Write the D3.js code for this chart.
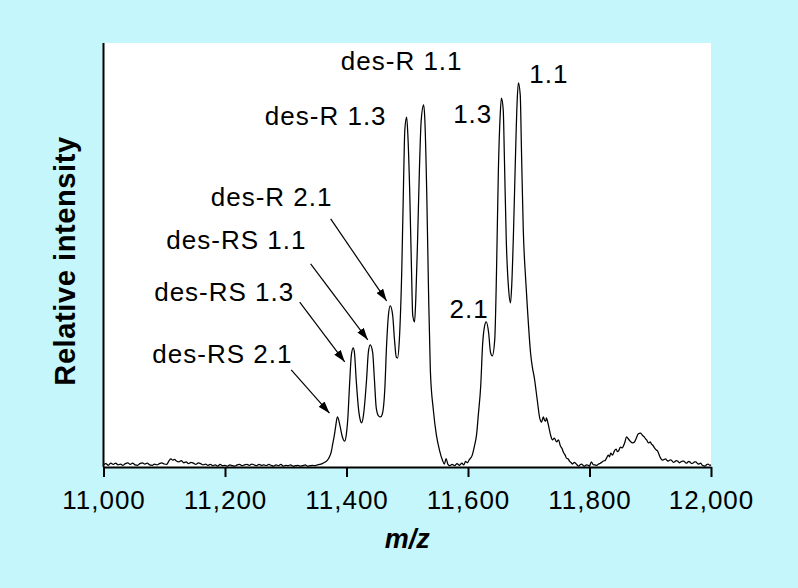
<!DOCTYPE html>
<html>
<head>
<meta charset="utf-8">
<script src="https://cdn.jsdelivr.net/npm/d3@7"></script>
<style>
  body { margin: 0; background: #c5f6fb; }
  svg { display: block; font-family: "Liberation Sans", Arial, Helvetica, sans-serif; }
</style>
</head>
<body>
<div id="chart"></div>
<script>
// m/z, relative intensity
const spectrum = [
  [11000,0.5],[11004,0.8],[11008,0.4],[11012,0.9],[11016,0.6],[11020,0.9],[11024,0.5],[11028,0.7],
  [11032,0.4],[11036,0.8],[11040,1.0],[11044,0.6],[11048,0.9],[11052,0.5],[11056,0.4],[11060,0.8],
  [11064,1.0],[11068,0.7],[11072,0.9],[11076,0.5],[11080,0.4],[11084,0.7],[11088,0.5],[11092,0.8],
  [11096,1.0],[11100,0.7],[11104,0.6],[11108,1.5],[11111,1.9],[11114,1.6],[11117,1.8],[11120,1.4],
  [11124,1.2],[11128,1.5],[11132,1.0],[11136,1.2],[11140,0.8],[11144,1.1],[11148,0.9],[11152,0.6],
  [11156,1.0],[11160,0.8],[11164,0.5],[11168,0.7],[11172,0.4],[11176,0.6],[11180,0.3],[11184,0.5],
  [11188,0.2],[11192,0.6],[11196,0.3],[11200,0.4],[11204,0.2],[11208,0.5],[11212,0.3],[11216,0.2],
  [11220,0.5],[11224,0.6],[11228,0.3],[11232,0.5],[11236,0.6],[11240,0.4],[11244,0.7],[11248,0.5],
  [11252,0.3],[11256,0.6],[11260,0.4],[11264,0.5],[11268,0.3],[11272,0.6],[11276,0.4],[11280,0.2],
  [11284,0.5],[11288,0.3],[11292,0.6],[11296,0.2],[11300,0.4],[11304,0.3],[11308,0.5],[11312,0.2],
  [11316,0.3],[11320,0.4],[11324,0.2],[11328,0.3],[11332,0.5],[11336,0.2],[11340,0.3],[11344,0.4],
  [11348,0.3],[11352,0.5],[11356,0.6],[11360,0.8],[11364,1.1],[11368,1.5],[11372,2.4],[11375,3.6],
  [11377,5.2],[11380,7.5],[11382,9.4],[11385,11.8],[11388,10.6],[11390,9.2],[11393,7.2],[11397,6.1],
  [11400,8.0],[11402,11.1],[11405,19.3],[11408,26.4],[11411,28.1],[11413,27.1],[11416,20.5],[11420,13.4],
  [11423,10.9],[11425,10.4],[11428,12.3],[11433,20.5],[11436,27.1],[11439,28.8],[11443,27.1],[11446,20.5],
  [11449,13.9],[11453,12.0],[11456,11.8],[11459,12.5],[11463,18.2],[11466,28.8],[11469,35.8],[11472,38.0],
  [11476,35.8],[11479,30.0],[11482,25.9],[11484,25.7],[11487,30.0],[11491,46.5],[11494,67.7],[11496,79.5],
  [11499,82.5],[11501,78.3],[11504,65.3],[11507,46.5],[11509,35.8],[11512,34.2],[11514,39.4],[11517,53.5],
  [11520,70.0],[11523,81.8],[11527,85.4],[11529,81.8],[11532,65.3],[11535,41.7],[11538,22.9],[11543,13.4],
  [11548,7.5],[11553,4.0],[11558,1.6],[11561,0.7],[11564,2.0],[11567,0.6],[11570,0.3],[11574,0.6],
  [11578,0.3],[11582,0.8],[11586,0.4],[11590,0.9],[11593,0.5],[11596,1.3],[11599,1.0],[11602,1.7],
  [11607,2.8],[11611,5.2],[11614,7.5],[11617,12.3],[11621,19.3],[11624,28.8],[11627,33.0],[11630,34.2],
  [11634,31.6],[11637,27.1],[11640,26.2],[11644,30.0],[11647,46.5],[11650,70.0],[11653,83.0],[11655,87.0],
  [11658,84.2],[11660,72.4],[11663,53.5],[11667,41.7],[11670,38.7],[11672,42.9],[11675,55.9],[11678,72.4],
  [11681,86.6],[11683,90.6],[11686,87.7],[11688,74.8],[11691,55.9],[11695,44.1],[11698,37.0],[11703,26.9],
  [11706,23.5],[11709,21.2],[11714,15.8],[11718,11.6],[11721,10.6],[11724,11.8],[11726,11.0],[11728,10.8],
  [11729,11.6],[11732,10.1],[11736,7.5],[11739,6.4],[11742,6.8],[11746,5.9],[11749,6.4],[11752,5.0],
  [11755,4.3],[11757,3.5],[11760,2.8],[11762,2.1],[11765,1.9],[11767,1.4],[11770,1.0],[11772,0.7],
  [11775,1.1],[11777,0.9],[11780,0.4],[11782,0.2],[11785,0.6],[11787,0.7],[11790,0.3],[11792,0.2],
  [11795,0.5],[11798,0.4],[11800,0.2],[11803,1.2],[11806,0.6],[11808,0.5],[11812,0.4],[11815,0.7],
  [11818,0.9],[11820,1.1],[11823,1.4],[11826,1.6],[11828,2.1],[11831,2.8],[11833,2.4],[11835,3.3],
  [11838,2.8],[11841,3.8],[11844,4.2],[11846,3.6],[11848,3.8],[11851,4.7],[11854,4.5],[11856,5.0],
  [11858,5.7],[11861,7.1],[11864,6.6],[11867,6.1],[11871,5.7],[11874,5.9],[11877,6.8],[11880,7.8],
  [11884,8.0],[11887,7.5],[11890,7.1],[11892,6.7],[11894,6.4],[11897,5.7],[11900,5.9],[11902,5.4],
  [11904,5.2],[11907,4.5],[11910,4.0],[11912,3.8],[11914,3.1],[11917,2.1],[11920,1.6],[11923,1.8],
  [11925,1.9],[11928,1.5],[11930,1.4],[11933,1.7],[11935,1.6],[11938,1.1],[11940,1.2],[11943,1.5],
  [11945,1.4],[11948,1.0],[11950,1.2],[11953,1.4],[11955,1.4],[11958,1.0],[11960,0.9],[11963,1.3],
  [11965,1.2],[11968,0.8],[11970,0.9],[11973,1.2],[11975,1.2],[11978,0.8],[11980,0.7],[11983,0.9],
  [11985,0.5],[11988,0.3],[11990,0.2],[11993,0.6],[11995,0.7],[11998,0.4],[12000,0.5]
];

const xTicks = [11000, 11200, 11400, 11600, 11800, 12000];

// peak labels: text, m/z and intensity of the text anchor
const peakLabels = ["des-R 1.1", "des-R 1.3", "des-R 2.1", "des-RS 1.1", "des-RS 1.3", "des-RS 2.1", "1.3", "2.1", "1.1"];
const labelMz = [11591, 11466, 11377, 11334, 11314, 11311, 11640, 11634, 11701];
const labelInt = [93.6, 80.7, 61.6, 51.4, 39.2, 24.5, 81.1, 35.1, 90.6];

// arrows from label to peak
const arrowFrom = [[11374, 58.5], [11341, 47.9], [11323, 38.9], [11309, 22.9]];
const arrowTo = [[11466, 39.2], [11435, 30.0], [11397, 24.8], [11372, 12.7]];

const width = 798, height = 588;
const margin = { top: 43, right: 87, bottom: 121, left: 103.5 };

const svg = d3.select("#chart").append("svg")
  .attr("width", width)
  .attr("height", height);

svg.append("rect").attr("width", width).attr("height", height).attr("fill", "#c5f6fb");

const x = d3.scaleLinear().domain([11000, 12000]).range([margin.left, width - margin.right]);
const y = d3.scaleLinear().domain([0, 100]).range([height - margin.bottom, margin.top]);

// white plot area
svg.append("rect")
  .attr("x", x(11000)).attr("y", y(100))
  .attr("width", x(12000) - x(11000)).attr("height", y(0) - y(100))
  .attr("fill", "#ffffff");

const line = d3.line()
  .x(d => x(d[0]))
  .y(d => y(d[1]))
  .curve(d3.curveMonotoneX);

svg.append("path")
  .datum(spectrum)
  .attr("fill", "none")
  .attr("stroke", "#000")
  .attr("stroke-width", 1.25)
  .attr("stroke-linejoin", "round")
  .attr("d", line);

// axes
const xAxis = svg.append("g")
  .attr("transform", `translate(0,${y(0)})`)
  .call(d3.axisBottom(x).tickValues(xTicks).tickFormat(d3.format(",")).tickSize(10).tickPadding(14).tickSizeOuter(0));
xAxis.select(".domain").attr("stroke-width", 2);
xAxis.selectAll(".tick line").attr("stroke-width", 2);
xAxis.selectAll("text")
  .attr("font-size", 26)
  .attr("letter-spacing", 1)
  .attr("fill", "#000")
  .attr("font-family", "Liberation Sans, Arial, sans-serif");

svg.append("line")
  .attr("x1", x(11000)).attr("x2", x(11000))
  .attr("y1", y(100)).attr("y2", y(0))
  .attr("stroke", "#000").attr("stroke-width", 2);

svg.append("text")
  .attr("x", (x(11000) + x(12000)) / 2)
  .attr("y", 548)
  .attr("text-anchor", "middle")
  .attr("font-size", 27)
  .attr("font-weight", "bold")
  .attr("font-style", "italic")
  .text("m/z");

svg.append("text")
  .attr("transform", "translate(75,261) rotate(-90)")
  .attr("text-anchor", "middle")
  .attr("font-size", 29)
  .attr("font-weight", "bold")
  .attr("letter-spacing", 0.6)
  .text("Relative intensity");

// arrow heads
svg.append("defs").append("marker")
  .attr("id", "head")
  .attr("markerUnits", "userSpaceOnUse")
  .attr("viewBox", "0 0 12 8")
  .attr("refX", 12).attr("refY", 4)
  .attr("markerWidth", 12).attr("markerHeight", 8)
  .attr("orient", "auto")
  .append("path")
  .attr("d", "M0,0 L12,4 L0,8 Z")
  .attr("fill", "#000");

svg.selectAll(".arrow")
  .data(arrowFrom)
  .join("line")
  .attr("class", "arrow")
  .attr("x1", d => x(d[0]))
  .attr("y1", d => y(d[1]))
  .attr("x2", (d, i) => x(arrowTo[i][0]))
  .attr("y2", (d, i) => y(arrowTo[i][1]))
  .attr("stroke", "#000")
  .attr("stroke-width", 1.2)
  .attr("marker-end", "url(#head)");

svg.selectAll(".peak-label")
  .data(peakLabels)
  .join("text")
  .attr("class", "peak-label")
  .attr("x", (d, i) => x(labelMz[i]))
  .attr("y", (d, i) => y(labelInt[i]))
  .attr("text-anchor", d => d === "1.1" ? "start" : "end")
  .attr("font-size", 26)
  .attr("letter-spacing", 1)
  .attr("fill", "#000")
  .text(d => d);
</script>
</body>
</html>
